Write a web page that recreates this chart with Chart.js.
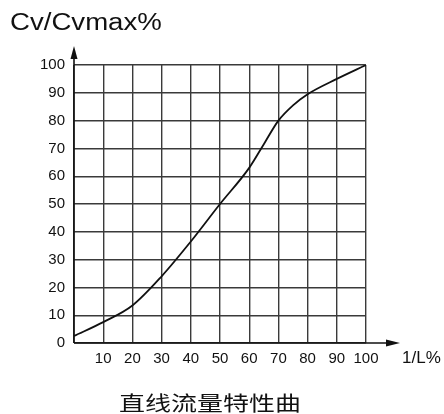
<!DOCTYPE html>
<html><head><meta charset="utf-8">
<script src="https://cdn.jsdelivr.net/npm/chart.js@4/dist/chart.umd.min.js"></script>
<style>html,body{margin:0;padding:0;background:#fff}#wrap{width:444px;height:414px}</style>
</head><body><div id="wrap"><canvas id="c" width="444" height="414"></canvas></div>
<script>
const openingPct = [0, 10, 20, 30, 40, 50, 60, 65, 70, 75, 80, 90, 100];
const flowPct = [2.5, 7.5, 13.5, 24, 36.5, 50, 63, 71.5, 80, 85.5, 89.5, 95, 100];
const yTitle = 'Cv/Cvmax%';
const xTitle = '1/L%';
const caption = '直线流量特性曲';
const FONT = '"Liberation Sans", Arial, sans-serif';

function stretchedText(ctx, text, x, y, font, sx, align) {
  ctx.save();
  ctx.font = font;
  ctx.fillStyle = '#111';
  ctx.textBaseline = 'middle';
  const w = ctx.measureText(text).width * sx;
  let left = x;
  if (align === 'center') left = x - w / 2;
  ctx.translate(left, y);
  ctx.scale(sx, 1);
  ctx.textAlign = 'left';
  ctx.fillText(text, 0, 0);
  ctx.restore();
}

const decor = {
  id: 'decor',
  afterDraw(chart) {
    const ctx = chart.ctx;
    const xs = chart.scales.x, ys = chart.scales.y;
    const x0 = xs.getPixelForValue(0), x1 = xs.getPixelForValue(100);
    const y0 = ys.getPixelForValue(0), y1 = ys.getPixelForValue(100);
    ctx.save();
    ctx.strokeStyle = '#111'; ctx.fillStyle = '#111'; ctx.lineWidth = 1.6;
    ctx.beginPath(); ctx.moveTo(x0, y0); ctx.lineTo(x0, y1 - 12); ctx.stroke();
    ctx.beginPath(); ctx.moveTo(x0, y0); ctx.lineTo(x1 + 24, y0); ctx.stroke();
    ctx.beginPath(); ctx.moveTo(x0, y1 - 19); ctx.lineTo(x0 - 3.5, y1 - 6); ctx.lineTo(x0 + 3.5, y1 - 6); ctx.closePath(); ctx.fill();
    ctx.beginPath(); ctx.moveTo(x1 + 34, y0); ctx.lineTo(x1 + 20, y0 - 3.5); ctx.lineTo(x1 + 20, y0 + 3.5); ctx.closePath(); ctx.fill();
    ctx.restore();
    stretchedText(ctx, yTitle, 10, 24, '23px ' + FONT, 1.2, 'left');
    stretchedText(ctx, xTitle, 402, 358, '17px ' + FONT, 1.0, 'left');
    stretchedText(ctx, caption, 210, 403, '20px "Noto Sans CJK SC", sans-serif', 1.3, 'center');
  }
};

new Chart(document.getElementById('c'), {
  type: 'line',
  data: {
    datasets: [{
      data: openingPct.map((x, i) => ({ x: x, y: flowPct[i] })),
      borderColor: '#111', borderWidth: 1.8, pointRadius: 0,
      cubicInterpolationMode: 'monotone', fill: false
    }]
  },
  options: {
    responsive: false, animation: false,
    layout: { padding: { left: 0, right: 78, top: 65, bottom: 41 } },
    plugins: { legend: { display: false }, tooltip: { enabled: false } },
    scales: {
      x: {
        type: 'linear', min: 0, max: 100,
        afterFit(s) { s.height = 30; },
        grid: { color: '#3a3a3a', lineWidth: 1.4, drawTicks: false },
        border: { display: false },
        ticks: { stepSize: 10, padding: 7, color: '#111', font: { family: FONT, size: 15 }, maxRotation: 0,
          callback: v => v === 0 ? '' : String(v) }
      },
      y: {
        min: 0, max: 100,
        afterFit(s) { s.width = 74; },
        grid: { color: '#3a3a3a', lineWidth: 1.4, drawTicks: false },
        border: { display: false },
        ticks: { stepSize: 10, padding: 9, color: '#111', font: { family: FONT, size: 15 } }
      }
    }
  },
  plugins: [decor]
});
</script></body></html>
